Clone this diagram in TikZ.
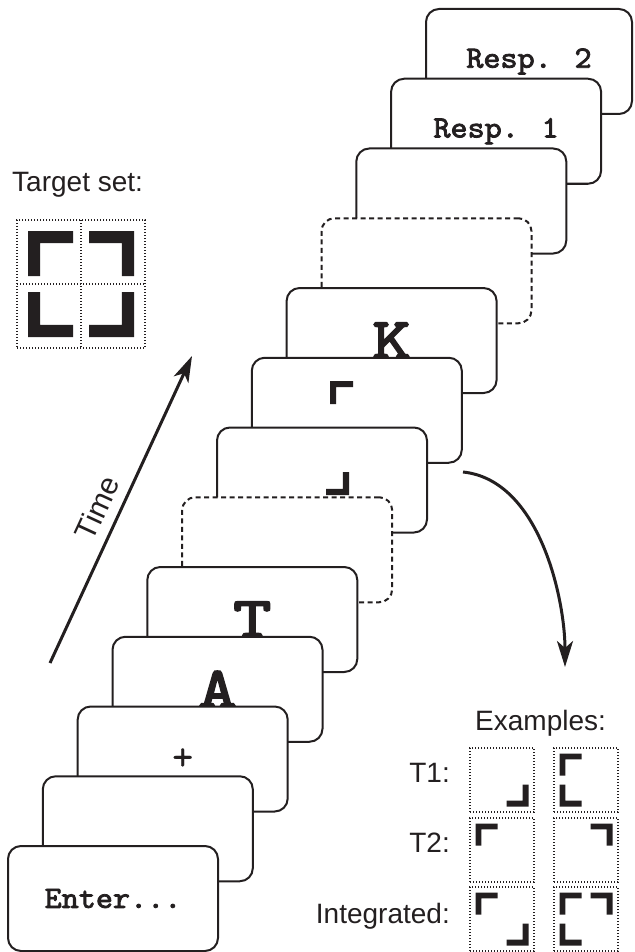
\documentclass[tikz,border=0pt]{standalone}
\usepackage{fontspec}
\setmainfont{Liberation Sans}
\newfontfamily\courfont{lmmono10-regular.otf}[FakeBold=2.5, FakeStretch=1.05]
\newfontfamily\courbig{lmmono10-regular.otf}[FakeBold=3.5, FakeStretch=1.25]
\newfontfamily\courplain{lmmono10-regular.otf}[FakeBold=0.6]
\usetikzlibrary{arrows.meta}
\definecolor{ink}{RGB}{35,31,32}
\begin{document}
\begin{tikzpicture}[x=1pt,y=-1pt,
  card/.style={draw=ink, line width=2pt, fill=white, rounded corners=13pt,
    minimum width=210pt, minimum height=105pt, inner sep=0pt, outer sep=0pt,
    anchor=north west, text=ink, font=\courfont\fontsize{31}{33}\selectfont},
  dashcard/.style={card, dash pattern=on 5pt off 3.5pt},
  bigtxt/.style={font=\courbig\fontsize{58}{60}\selectfont},
  plustxt/.style={font=\courplain\fontsize{40}{42}\selectfont},
  lbl/.style={font=\fontsize{28}{30}\selectfont, inner sep=0pt, text=ink},
  dotbox/.style={draw=ink, line width=1.3pt, dash pattern=on 1.3pt off 1.7pt,
    minimum width=64pt, minimum height=64pt, inner sep=0pt, outer sep=0pt},
  arr/.style={draw=ink, line width=3pt, -{Stealth[length=26pt,width=16pt,inset=7pt]}},
  lshape/.pic={\fill[ink] (0,0) -- (1,0) -- (1,0.27) -- (0.27,0.27) -- (0.27,1) -- (0,1) -- cycle;}
]
\useasboundingbox (0,0) rectangle (634,952);

% ---------- cards (back to front) ----------
\node[card, minimum width=206pt] (c12) at (426,9) {Resp. 2};
\node[card] (c11) at (391.1,78.75) {Resp. 1};
\node[card] (c10) at (356.3,148.5) {};
\node[dashcard] (c9) at (321.5,218.25) {};
\node[card, bigtxt] (c8) at (286.6,288) {K};
\node[card] (c7) at (251.8,357.75) {};
\pic[scale=23] at (330,381) {lshape};
\node[card] (c6) at (217,427.5) {};
\pic[scale=-23] at (349,495) {lshape};
\node[dashcard] (c5) at (182.2,497.25) {};
\node[card, bigtxt] (c4) at (147.3,567) {T};
\node[card, bigtxt] (c3) at (112.5,636.75) {A};
\node[card, plustxt] (c2) at (77.7,706.5) {+};
\node[card] (c1) at (42.8,776.25) {};
\node[card] (c0) at (8,846) {Enter...};

% ---------- time arrow ----------
\coordinate (t0) at (50,663);
\coordinate (t1) at (192,356);
\draw[arr] (t0) -- (t1);
\node[lbl, font=\fontsize{30}{32}\selectfont, rotate=65.2] (time) at (97,508) {Time};

% ---------- curved arrow ----------
\coordinate (cs) at (463,472);
\coordinate (ce) at (565,667);
\draw[arr] (cs) .. controls (540,480) and (565,600) .. (ce);

% ---------- target set ----------
\node[lbl, anchor=base west] (tsl) at (12,192) {Target set:};
\node[dotbox, minimum width=128pt, minimum height=128pt, anchor=north west] (tset) at (17,220) {};
\draw[draw=ink, line width=1.3pt, dash pattern=on 1.3pt off 1.7pt] (tset.north) -- (tset.south);
\draw[draw=ink, line width=1.3pt, dash pattern=on 1.3pt off 1.7pt] (tset.west) -- (tset.east);
\pic[scale=45] at (28,231) {lshape};
\pic[xscale=-45,yscale=45] at (134,231) {lshape};
\pic[xscale=45,yscale=-45] at (28,337) {lshape};
\pic[scale=-45] at (134,337) {lshape};

% ---------- examples ----------
\node[lbl, anchor=base west] (exl) at (475,730) {Examples:};
\node[lbl, anchor=base east] (t1l) at (450,782) {T1:};
\node[lbl, anchor=base east] (t2l) at (450,852) {T2:};
\node[lbl, anchor=base east] (inl) at (450,923) {Integrated:};

\node[dotbox, anchor=north west] (e11) at (470,748) {};
\node[dotbox, anchor=north west] (e12) at (554,748) {};
\node[dotbox, anchor=north west] (e21) at (470,818) {};
\node[dotbox, anchor=north west] (e22) at (554,818) {};
\node[dotbox, anchor=north west] (e31) at (470,887) {};
\node[dotbox, anchor=north west] (e32) at (554,887) {};

% T1
\pic[scale=-22] at (528.5,806.5) {lshape};
\pic[scale=22] at (559.5,753.5) {lshape};
\pic[xscale=22,yscale=-22] at (559.5,806.5) {lshape};
% T2
\pic[scale=22] at (475.5,823.5) {lshape};
\pic[xscale=-22,yscale=22] at (612.5,823.5) {lshape};
% Integrated
\pic[scale=22] at (475.5,892.5) {lshape};
\pic[scale=-22] at (528.5,945.5) {lshape};
\pic[scale=22] at (559.5,892.5) {lshape};
\pic[xscale=-22,yscale=22] at (612.5,892.5) {lshape};
\pic[xscale=22,yscale=-22] at (559.5,945.5) {lshape};
\end{tikzpicture}
\end{document}
